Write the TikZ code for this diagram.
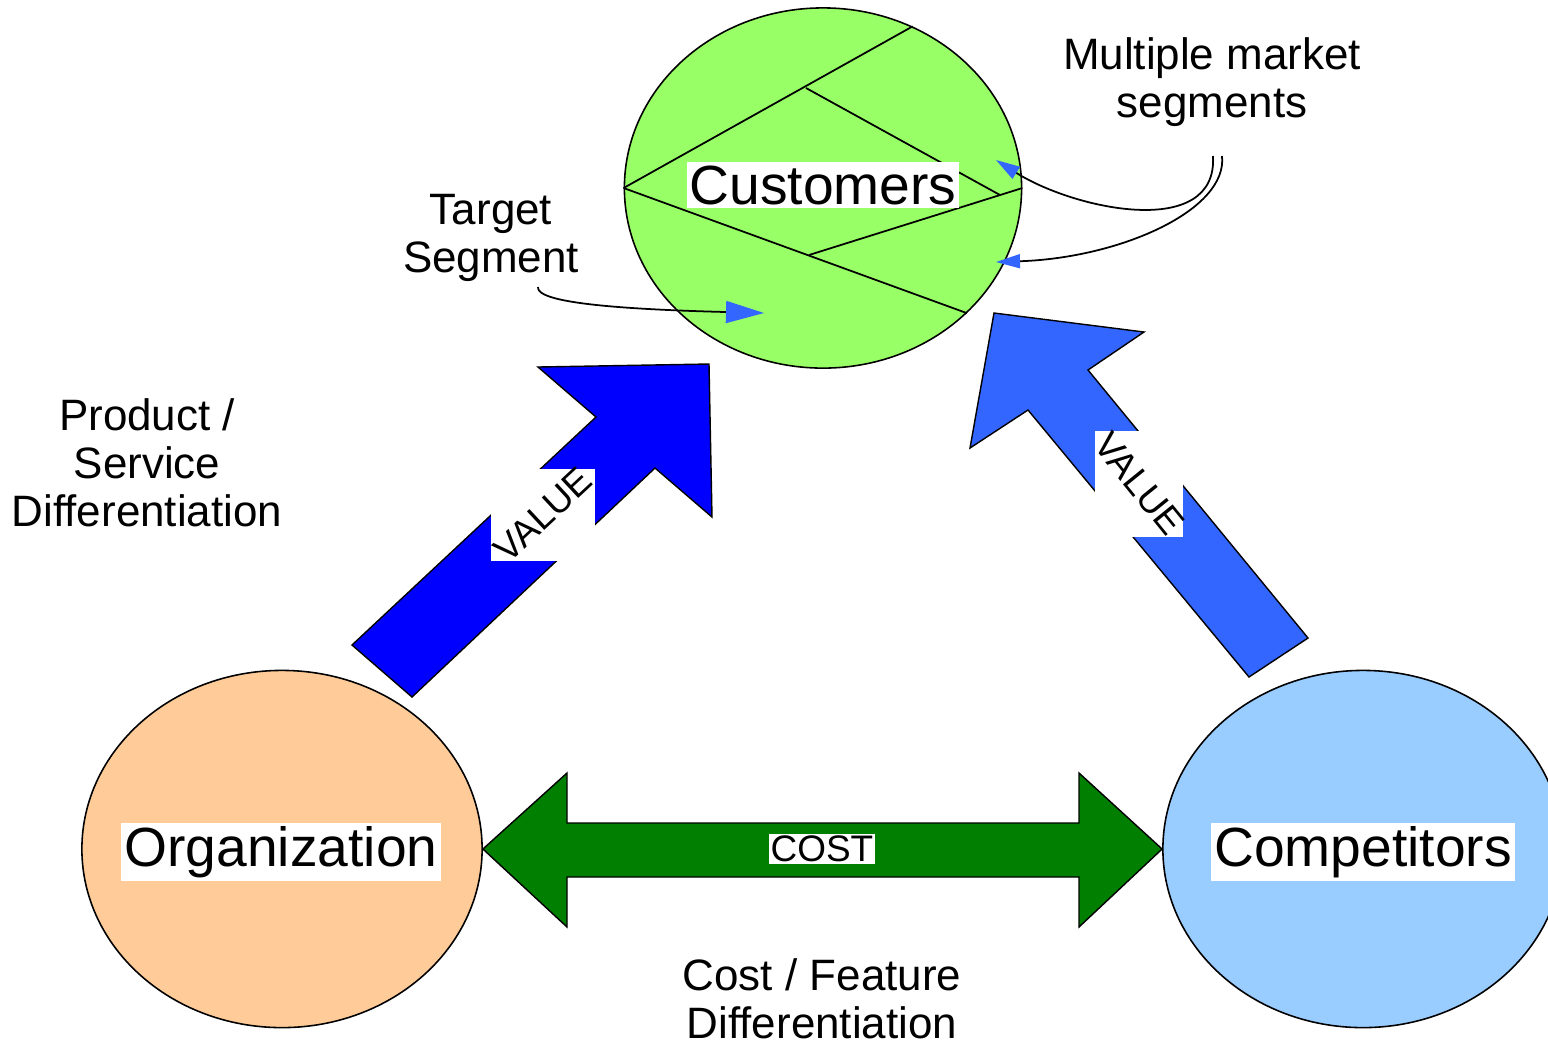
\documentclass[tikz,border=0pt]{standalone}
\usepackage{fontspec}
\setmainfont{Liberation Sans}
\usepackage{tikz}
\usetikzlibrary{shapes.geometric,arrows.meta,positioning}
\definecolor{custgreen}{HTML}{99FF66}
\definecolor{orgorange}{HTML}{FFCC99}
\definecolor{compblue}{HTML}{99CCFF}
\definecolor{valuedark}{HTML}{0000FF}
\definecolor{valuelight}{HTML}{3366FF}
\definecolor{costgreen}{HTML}{007F00}
\tikzset{
	party/.style = {draw, ellipse, line width = 0.45pt, minimum width = 4cm, minimum height = 3.57cm, inner sep = 0mm},
	name tag/.style = {fill = white, inner sep = 0.3mm, font = \fontsize{15.7}{18}\selectfont},
	big arrow/.style = {draw, line width = 0.4pt, line join = miter},
	arrow tag/.style = {inner sep = 0mm, font = \fontsize{10.5}{12}\selectfont},
	note/.style = {align = center, inner sep = 0mm, font = \fontsize{12.5}{13.7}\selectfont},
	callout/.style = {line width = 0.5pt},
	pointer/.style = {-{Triangle[length = 3.8mm, width = 2.2mm, color = valuelight]}},
	small pointer/.style = {-{Triangle[length = 2.4mm, width = 1.4mm, color = valuelight]}}
}

\begin{document}
\begin{tikzpicture}[x = 0.01cm, y = -0.01cm]
	\useasboundingbox (0, 0) rectangle (1548, 1041);

	% the three parties
	\node [party, fill = custgreen, minimum width = 3.97cm, minimum height = 3.6cm] (cust) at (823, 188) {};
	\node [party, fill = orgorange] (org) at (282, 849) {};
	\node [party, fill = compblue] (comp) at (1363, 849) {};

	% market segments
	\coordinate (s1) at (806, 88);
	\coordinate (s2) at (1000, 195);
	\coordinate (s3) at (809, 255);
	\draw [callout] (cust.west) -- (cust.61);
	\draw [callout] (cust.west) -- (cust.-41);
	\draw [callout] (s1) -- (s2);
	\draw [callout] (s3) -- (cust.east);

	\node [name tag] (custname) at (823, 185) {Customers};
	\node [name tag] (orgname) at (281, 852) {Organization};
	\node [name tag] (compname) at (1363, 852) {Competitors};

	% value arrows
	\draw [big arrow, fill = valuedark] (352, 645) -- (596, 417) -- (538, 367) -- (709, 364)
		-- (712, 517) -- (655, 468) -- (412, 697) -- cycle;
	\draw [big arrow, fill = valuelight] (994, 313) -- (1144, 332) -- (1088, 370) -- (1308, 638)
		-- (1249, 677) -- (1028, 410) -- (970, 448) -- cycle;

	\node [fill = white, minimum width = 1.04cm, minimum height = 0.92cm, inner sep = 0mm] (vbox1) at (543, 515) {};
	\node [arrow tag, rotate = 43] (value1) at (vbox1) {VALUE};
	\node [fill = white, minimum width = 0.88cm, minimum height = 1.06cm, inner sep = 0mm] (vbox2) at (1139, 484) {};
	\node [arrow tag, rotate = -51] (value2) at (vbox2) {VALUE};

	% cost arrow
	\draw [big arrow, fill = costgreen] (org.east) -- (567, 773) -- (567, 823) -- (1079, 823)
		-- (1079, 773) -- (comp.west) -- (1079, 927) -- (1079, 877) -- (567, 877) -- (567, 927) -- cycle;
	\node [arrow tag, fill = white, inner sep = 0.2mm] (cost) at (822, 849) {COST};

	% labels
	\node [note] (diff) at (147, 463) {Product /\\Service\\Differentiation};
	\node [note] (costdiff) at (822, 999) {Cost / Feature\\Differentiation};
	\node [note] (target) at (491, 238) {Target\\Segment};
	\node [note] (multi) at (1212, 82) {Multiple market\\segments};

	% pointers into the segments
	\coordinate (t0) at (538, 287);
	\coordinate (t1) at (764, 313);
	\coordinate (m0) at (1213, 156);
	\coordinate (m1) at (996, 160);
	\coordinate (n0) at (1222, 156);
	\coordinate (n1) at (996, 262);
	\draw [callout, pointer] (t0) .. controls (536, 302) and (610, 309) .. (t1);
	\draw [callout, small pointer] (m0) .. controls (1218, 240) and (1075, 210) .. (m1);
	\draw [callout, small pointer] (n0) .. controls (1228, 210) and (1120, 258) .. (n1);
\end{tikzpicture}
\end{document}
